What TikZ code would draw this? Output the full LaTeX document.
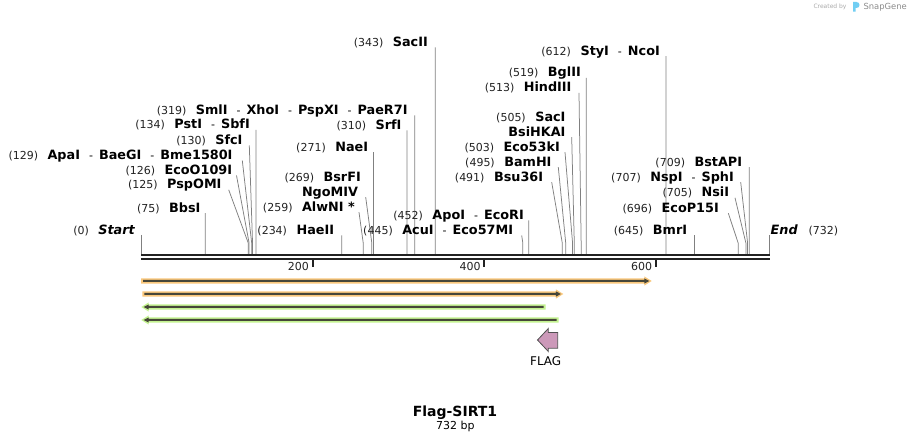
\documentclass[tikz,border=0pt]{standalone}
\usepackage{fontspec}
\setmainfont{DejaVu Sans}
\definecolor{orhalo}{HTML}{F9C77B}
\definecolor{grhalo}{HTML}{C3F28F}
\definecolor{featdark}{HTML}{464639}
\definecolor{flagpink}{HTML}{CC99B9}
\definecolor{flagedge}{HTML}{505050}
\definecolor{cutgray}{HTML}{808080}
\definecolor{rulerc}{HTML}{222222}
\definecolor{numc}{HTML}{222222}
\definecolor{logoblue}{HTML}{71CEF3}
\newcommand\NF{\fontsize{11}{13}\selectfont}
\newcommand\EF{\fontsize{12.8}{15}\selectfont\bfseries}
\newcommand\En[2]{{\NF\color{numc}(#1)}\hspace{9.5pt}{\EF #2}}
\newcommand\Sp{\hspace{9pt}{\NF\mdseries -}\hspace{6pt}}
\newcommand\Nm[1]{{\EF #1}}
% name, label right end x, label cap-centre y, line start x, bp, text
\newcommand\Cut[6]{%
  \node[lbl] (#1) at (#2,#3+4.4) {#6};
  \coordinate (#1a) at (#4,#3+5.5);
  \coordinate (#1s) at ({141+#5*0.858},254);
  \draw[cut] (#1a) -- ([yshift=11pt]#1s) -- (#1s);
}
% right-pointing feature: name, y, x0, xtip, halo colour
\newcommand\FeatR[5]{%
  \fill[#5] (#3,#2-2.7) -- (#4-7.4,#2-2.7) -- (#4-7.4,#2-4.6) -- (#4,#2) -- (#4-7.4,#2+4.6) -- (#4-7.4,#2+2.7) -- (#3,#2+2.7) -- cycle;
  \fill[featdark] (#3+2,#2-1) -- (#4-7.4,#2-1) -- (#4-7.4,#2-2.6) -- (#4-2.4,#2) -- (#4-7.4,#2+2.6) -- (#4-7.4,#2+1) -- (#3+2,#2+1) -- cycle;
  \coordinate (#1) at (#4,#2);
}
% left-pointing feature: name, y, xtip, x1, halo colour
\newcommand\FeatL[5]{%
  \fill[#5] (#4,#2-2.7) -- (#3+7.4,#2-2.7) -- (#3+7.4,#2-4.6) -- (#3,#2) -- (#3+7.4,#2+4.6) -- (#3+7.4,#2+2.7) -- (#4,#2+2.7) -- cycle;
  \fill[featdark] (#4-2,#2-1) -- (#3+7.4,#2-1) -- (#3+7.4,#2-2.6) -- (#3+2.4,#2) -- (#3+7.4,#2+2.6) -- (#3+7.4,#2+1) -- (#4-2,#2+1) -- cycle;
  \coordinate (#1) at (#3,#2);
}
\begin{document}
\begin{tikzpicture}[x=1pt,y=-1pt,
  lbl/.style={inner sep=0pt, anchor=base east},
  cut/.style={draw=cutgray, line width=0.75pt},
  rulerline/.style={draw=rulerc, line width=2.2pt},
  tickline/.style={draw=rulerc, line width=1.8pt},
  ticklbl/.style={inner sep=0pt, anchor=base east, font=\NF, text=numc}]
\path[fill=white] (0,0) rectangle (911,443);

% credit
\node[inner sep=0pt, anchor=west, text=black!33, font=\fontsize{6}{7}\selectfont] (cred) at (813.3,7.3) {Created by};
\fill[logoblue] (853,11.7) -- (853,2) -- (856.5,2) .. controls (860.5,2) and (860.5,8) .. (856.5,8) -- (855.6,8) -- (855.6,11.7) -- cycle;
\node[inner sep=0pt, anchor=west, text=black!45, font=\fontsize{8.4}{10}\selectfont] (sg) at (863.3,7.3) {SnapGene};

% ruler
\coordinate (rs) at (141,255.2);
\coordinate (re) at (769.5,255.2);
\draw[rulerline] (rs) -- (re);
\draw[rulerline] ([yshift=-4.1pt]rs) -- ([yshift=-4.1pt]re);
\foreach \t in {200,400,600} {
  \coordinate (tk\t) at ({141+\t*0.858},260);
  \draw[tickline] (tk\t) -- ++(0,7);
  \node[ticklbl] (tl\t) at ({141+\t*0.858-3.5},270.5) {\t};
}

% start / end
\node[lbl] (start) at (135,234.1) {\En{0}{\itshape Start}};
\coordinate (starta) at (141,235);
\coordinate (starts) at (141,254);
\draw[cut] (starta) -- (starts);
\node[inner sep=0pt, anchor=base west] (endl) at (770.5,234.1) {\EF\itshape End};
\node[inner sep=0pt, anchor=base west] (endn) at (808.3,234.1) {\NF\color{numc}(732)};
\coordinate (enda) at (769.1,235);
\coordinate (ends) at (769.1,254);
\draw[cut] (enda) -- (ends);

% cut sites
\Cut{bbs}{200.7}{207.7}{205.35}{75}{\En{75}{BbsI}}
\Cut{psp}{221.7}{184.3}{228.7}{125}{\En{125}{PspOMI}}
\Cut{ecoo}{232.3}{170}{236.5}{126}{\En{126}{EcoO109I}}
\Cut{apa}{232.7}{155}{242.3}{129}{\En{129}{ApaI\Sp BaeGI\Sp Bme1580I}}
\Cut{sfc}{242.7}{140}{249.3}{130}{\En{130}{SfcI}}
\Cut{pst}{250}{124.3}{256.0}{134}{\En{134}{PstI\Sp SbfI}}
\Cut{sml}{407.7}{110}{414.7}{319}{\En{319}{SmlI\Sp XhoI\Sp PspXI\Sp PaeR7I}}
\Cut{srf}{401.7}{125}{407.0}{310}{\En{310}{SrfI}}
\Cut{nae}{368.3}{146.7}{373.5}{271}{\En{271}{NaeI}}
\node[lbl] (bsrf) at (361,181.1) {\En{269}{BsrFI}};
\Cut{ngo}{358.3}{191.7}{365.7}{269}{\Nm{NgoMIV}}
\Cut{alw}{355}{206.7}{359}{259}{\En{259}{AlwNI *}}
\Cut{hae}{334.3}{230}{341.8}{234}{\En{234}{HaeII}}
\Cut{sacii}{428}{42}{435.3}{343}{\En{343}{SacII}}
\Cut{acu}{513.3}{230}{521.7}{445}{\En{445}{AcuI\Sp Eco57MI}}
\Cut{apo}{524}{215}{528.8}{452}{\En{452}{ApoI\Sp EcoRI}}
\Cut{bsu}{543.3}{176.7}{551.7}{491}{\En{491}{Bsu36I}}
\Cut{bam}{551.7}{161.7}{558.3}{495}{\En{495}{BamHI}}
\Cut{ecok}{560}{146.7}{565}{503}{\En{503}{Eco53kI}}
\node[lbl] (saci) at (565.7,121.7) {\En{505}{SacI}};
\Cut{bsih}{565.7}{131.7}{571.7}{505}{\Nm{BsiHKAI}}
\Cut{hind}{571.7}{87.3}{579}{513}{\En{513}{HindIII}}
\Cut{bgl}{581}{72.3}{586.3}{519}{\En{519}{BglII}}
\Cut{sty}{660}{50.7}{666.1}{612}{\En{612}{StyI\Sp NcoI}}
\Cut{bmr}{687.3}{229.7}{694.4}{645}{\En{645}{BmrI}}
\Cut{ecop}{719}{207.7}{728.3}{696}{\En{696}{EcoP15I}}
\Cut{nsi}{729.3}{192.3}{735}{705}{\En{705}{NsiI}}
\Cut{nsp}{734}{176.7}{740.7}{707}{\En{707}{NspI\Sp SphI}}
\Cut{bsta}{742.3}{161.7}{749.3}{709}{\En{709}{BstAPI}}

% features
\FeatR{f1}{281}{141}{651.7}{orhalo}
\FeatR{f2}{294}{142.3}{563.3}{orhalo}
\FeatL{f3}{307}{141.3}{545.7}{grhalo}
\FeatL{f4}{320}{141.3}{558.7}{grhalo}

% FLAG
\filldraw[fill=flagpink, draw=flagedge, line width=0.8pt, line join=miter]
  (537.5,340) -- (548.3,328.5) -- (548.3,332.5) -- (557.7,332.5) -- (557.7,348.2) -- (548.3,348.2) -- (548.3,351.5) -- cycle;
\node[inner sep=0pt, anchor=base, font=\fontsize{12}{14}\selectfont] (flag) at (545.7,365.7) {FLAG};

% title
\node[inner sep=0pt, anchor=base, font=\fontsize{14}{17}\selectfont\bfseries] (title) at (455,417) {Flag-SIRT1};
\node[inner sep=0pt, anchor=base, font=\NF] (len) at (455.3,430) {732 bp};
\end{tikzpicture}
\end{document}
